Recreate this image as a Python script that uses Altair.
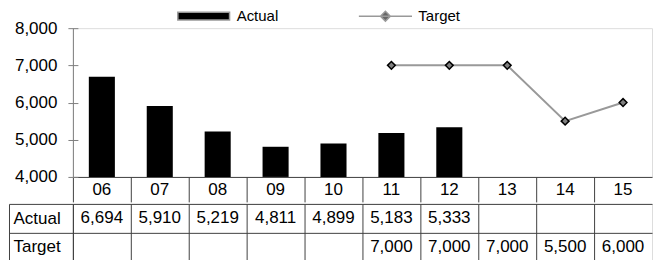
import altair as alt
import pandas as pd

categories = ["06", "07", "08", "09", "10", "11", "12", "13", "14", "15"]
actual = [6694, 5910, 5219, 4811, 4899, 5183, 5333, None, None, None]
target = [None, None, None, None, None, 7000, 7000, 7000, 5500, 6000]
row_names = ["Actual", "Target"]
series_names = ["Actual", "Target"]
y_ticks = [4000, 5000, 6000, 7000, 8000]
y_min, y_max = 4000, 8000

FONT = "Liberation Sans"
LINE = "#404040"

bars_df = pd.DataFrame({"cat": categories, "value": actual}).dropna()
bars_df["base"] = y_min
line_df = pd.DataFrame({"cat": categories, "value": target}).dropna()
legend_df = pd.DataFrame({"cat": [categories[0]] * 2, "value": [None, None],
                          "series": series_names})

rows = []
for name, vals in zip(row_names, [actual, target]):
    for c, v in zip(categories, vals):
        rows.append({"cat": c, "row": name, "txt": "" if v is None else f"{v:,}"})
table_df = pd.DataFrame(rows)

xscale = alt.Scale(type="band", domain=categories, paddingInner=0, paddingOuter=0,
                   round=False)
yscale = alt.Scale(domain=[y_min, y_max], nice=False, zero=False)


def X(axis=None):
    if axis is None:
        return alt.X("cat:N", sort=categories, scale=xscale, title=None)
    return alt.X("cat:N", sort=categories, scale=xscale, title=None, axis=axis)


xaxis_top = alt.Axis(
    title=None, labelAngle=0, bandPosition=0, tickSize=25,
    tickColor=LINE, domainColor=LINE, labelPadding=-12, labelBaseline="middle",
    labelFont=FONT, labelFontSize=17, labelColor="#000",
)

bars = alt.Chart(bars_df).mark_bar(
    color="#000000", width=alt.RelativeBandSize(0.45)
).encode(
    x=X(xaxis_top),
    y=alt.Y("value:Q", scale=yscale, title=None, axis=alt.Axis(
        title=None, values=y_ticks, format=",d", orient="left", offset=-5,
        domain=False, tickSize=10, tickColor="#808080", labelPadding=11,
        labelFont=FONT, labelFontSize=17, labelColor="#000", grid=False)),
    y2="base:Q",
)

line = alt.Chart(line_df).mark_line(strokeWidth=2, color="#999999").encode(
    x=X(),
    y=alt.Y("value:Q", scale=yscale, title=None, axis=alt.Axis(
        title=None, orient="left", labels=False, ticks=False, grid=False,
        domain=True, domainColor="#808080")),
)

points = alt.Chart(line_df).mark_point(
    shape="diamond", filled=True, size=60, fill="#808080", stroke="#000000",
    strokeWidth=1.5, opacity=1,
).encode(
    x=X(),
    y=alt.Y("value:Q", scale=yscale, title=None, axis=None),
)

leg = alt.Legend(
    title=None, orient="none", direction="horizontal",
    legendX=123, legendY=-20,
    symbolSize=196, labelOffset=25, columnPadding=77,
    symbolStrokeWidth=1.5,
    labelFont=FONT, labelFontSize=15, labelColor="#000")

legend_layer = alt.Chart(legend_df).mark_point(
    filled=True, stroke="#999999", strokeWidth=1.5, opacity=1
).encode(
    x=X(),
    y=alt.Y("value:Q", scale=yscale, title=None, axis=None),
    fill=alt.Fill("series:N", scale=alt.Scale(domain=series_names,
                                              range=["#000000", "#666666"]),
                  legend=leg),
    shape=alt.Shape("series:N", scale=alt.Scale(
        domain=series_names,
        range=["M-3.7,-0.55H3.7V0.55H-3.7Z",
               "M-3.8,0H3.8M-0.7,0L0,-0.7L0.7,0L0,0.7Z"]),
        legend=leg),
)

top = alt.layer(bars, line, points, legend_layer).resolve_axis(y="independent").properties(
    width=580, height=149
)

tx_axis = alt.Axis(
    title=None, labels=False, ticks=False, domain=False, grid=True,
    bandPosition=0, gridColor=LINE, gridOpacity=1)

row_scale = alt.Scale(domain=row_names, paddingInner=0, paddingOuter=0)

table_text = alt.Chart(table_df).mark_text(
    font=FONT, fontSize=17, color="#000"
).encode(
    x=X(tx_axis),
    y=alt.Y("row:N", sort=row_names, scale=row_scale, title=None,
            axis=alt.Axis(title=None, orient="left", labelAlign="left",
                          labelPadding=-4, tickSize=64, tickBand="extent",
                          tickColor=LINE, domainColor=LINE, grid=True,
                          gridColor=LINE, gridOpacity=1,
                          labelFont=FONT, labelFontSize=17, labelColor="#000")),
    text="txt:N",
)

table_border = alt.Chart(table_df).mark_text(opacity=0).encode(
    x=X(),
    y=alt.Y("row:N", sort=row_names, scale=row_scale, title=None,
            axis=alt.Axis(title=None, orient="left", offset=64, labels=False,
                          ticks=False, grid=False, domain=True,
                          domainColor=LINE)),
    text="txt:N",
)

table = alt.layer(table_text, table_border).resolve_axis(y="independent").properties(
    width=580, height=57
)

chart = alt.vconcat(top, table, spacing=-9).properties(
    padding={"left": 0, "top": 0, "right": 0, "bottom": 0}
).configure_view(stroke=None).configure(background="white")

chart.save("out.html", embed_options={"renderer": "svg", "actions": False})
